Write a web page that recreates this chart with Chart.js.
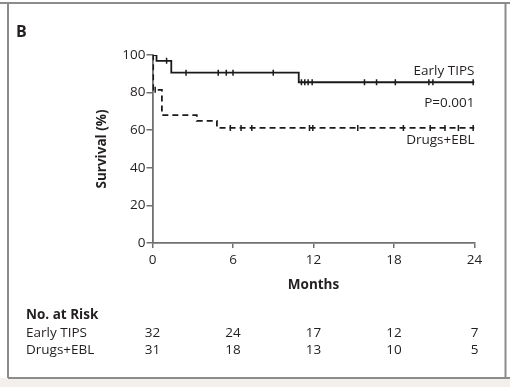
<!DOCTYPE html>
<html>
<head>
<meta charset="utf-8">
<script src="https://cdn.jsdelivr.net/npm/chart.js@4"></script>
<style>
  html, body { margin: 0; padding: 0; background: #fff; }
  #wrap { position: relative; width: 510px; height: 387px; }
  canvas { position: absolute; left: 0; top: 0; }
</style>
</head>
<body>
<div id="wrap"><canvas id="km" width="510" height="387"></canvas></div>
<script>
// Kaplan-Meier steps: [month, survival %] (value after each drop)
var tipsSteps = [[0, 100], [0.3, 96.9], [1.4, 90.6], [10.9, 85.5], [24, 85.5]];
var eblSteps = [[0, 100], [0.05, 81.5], [0.7, 68], [3.3, 65], [4.8, 61.2], [24, 61.2]];

// censored observations (months)
var tipsCensorTimes = [1.05, 2.5, 4.9, 5.5, 6.0, 9.0, 11.1, 11.35, 11.6, 11.9, 15.8, 16.7, 18.1, 20.6, 20.9, 23.9];
var tipsCensorValues = [96.9, 90.6, 90.6, 90.6, 90.6, 90.6, 85.5, 85.5, 85.5, 85.5, 85.5, 85.5, 85.5, 85.5, 85.5, 85.5];
var eblCensorTimes = [0.2, 5.8, 6.6, 7.4, 11.7, 11.95, 15.3, 18.7, 20.7, 21.8, 22.8, 23.9];
var eblCensorValues = [81.5, 61.2, 61.2, 61.2, 61.2, 61.2, 61.2, 61.2, 61.2, 61.2, 61.2, 61.2];

// number at risk table
var riskTimes = [0, 6, 12, 18, 24];
var tipsRisk = [32, 24, 17, 12, 7];
var eblRisk = [31, 18, 13, 10, 5];
var groupNames = ['Early TIPS', 'Drugs+EBL'];

var FONT = '"Open Sans", "Noto Sans", sans-serif';
var TEXT = '#231f20';
var AXIS = '#707070';

function toXY(pairs) {
    return pairs.map(function(p) { return {x: p[0], y: p[1]}; });
}
function zipXY(xs, ys) {
    return xs.map(function(x, i) { return {x: x, y: ys[i]}; });
}

// frame, panel letter, curve labels and the risk table
var extras = {
    id: 'extras',
    beforeDraw: function(chart) {
        var c = chart.ctx;
        c.save();
        c.fillStyle = '#f3f0eb';
        c.fillRect(0, 378, 510, 9);
        c.restore();
    },
    afterDraw: function(chart) {
        var c = chart.ctx;
        var xs = chart.scales.x, ys = chart.scales.y;
        c.save();
        // frame
        c.strokeStyle = '#8c8c8c';
        c.lineWidth = 2;
        c.beginPath();
        c.moveTo(0, 3); c.lineTo(510, 3);
        c.moveTo(8, 3); c.lineTo(8, 378);
        c.moveTo(8, 378); c.lineTo(510, 378);
        c.moveTo(505.5, 3); c.lineTo(505.5, 378);
        c.stroke();

        c.fillStyle = TEXT;
        c.textBaseline = 'middle';
        c.font = 'bold 16px ' + FONT;
        c.textAlign = 'left';
        c.fillText('B', 16, 32);

        // curve labels
        c.font = '13.5px ' + FONT;
        c.textAlign = 'right';
        var right = xs.getPixelForValue(24);
        c.fillText('Early TIPS', right, ys.getPixelForValue(91.6));
        c.fillText('P=0.001', right, ys.getPixelForValue(74.6));
        c.fillText('Drugs+EBL', right, ys.getPixelForValue(54.8));

        // risk table
        c.textAlign = 'left';
        c.font = 'bold 13.5px ' + FONT;
        c.fillText('No. at Risk', 26, 315);
        c.font = '13.5px ' + FONT;
        c.fillText(groupNames[0], 26, 333);
        c.fillText(groupNames[1], 26, 350);
        c.textAlign = 'center';
        for (var i = 0; i < riskTimes.length; i++) {
            var px = xs.getPixelForValue(riskTimes[i]);
            c.fillText(String(tipsRisk[i]), px, 333);
            c.fillText(String(eblRisk[i]), px, 350);
        }
        c.restore();
    }
};

var censorStyle = {
    type: 'scatter',
    showLine: false,
    pointStyle: 'line',
    rotation: 90,
    pointRadius: 3,
    pointBorderWidth: 1.5,
    borderColor: '#1a1a1a',
    backgroundColor: '#1a1a1a'
};

new Chart(document.getElementById('km').getContext('2d'), {
    type: 'line',
    data: {
        datasets: [
            {
                label: groupNames[0],
                data: toXY(tipsSteps),
                stepped: true,
                borderColor: '#1a1a1a',
                borderWidth: 1.8,
                pointRadius: 0,
                fill: false
            },
            {
                label: groupNames[1],
                data: toXY(eblSteps),
                stepped: true,
                borderColor: '#1a1a1a',
                borderWidth: 1.8,
                borderDash: [6, 4],
                pointRadius: 0,
                fill: false
            },
            Object.assign({label: 'tips censored', data: zipXY(tipsCensorTimes, tipsCensorValues)}, censorStyle),
            Object.assign({label: 'ebl censored', data: zipXY(eblCensorTimes, eblCensorValues)}, censorStyle)
        ]
    },
    options: {
        responsive: false,
        animation: false,
        layout: {padding: {left: 90, top: 55, right: 35.5, bottom: 90}},
        plugins: {
            legend: {display: false},
            tooltip: {enabled: false}
        },
        scales: {
            x: {
                type: 'linear',
                min: 0,
                max: 24,
                afterFit: function(scale) { scale.height = 54; },
                ticks: {stepSize: 6, color: TEXT, font: {family: FONT, size: 13.5}, padding: 4},
                grid: {drawOnChartArea: false, drawTicks: true, tickLength: 5, color: AXIS, lineWidth: 1.5},
                border: {color: AXIS, width: 1.8},
                title: {display: true, text: 'Months', color: TEXT, font: {family: FONT, size: 13.5, weight: 'bold'}, padding: {top: 0, bottom: 4}}
            },
            y: {
                min: 0,
                max: 100,
                afterFit: function(scale) { scale.width = 62.5; },
                ticks: {stepSize: 20, color: TEXT, font: {family: FONT, size: 13.5}, padding: 1},
                grid: {drawOnChartArea: false, drawTicks: true, tickLength: 6, color: AXIS, lineWidth: 1.5},
                border: {color: AXIS, width: 1.8},
                title: {display: true, text: 'Survival (%)', color: TEXT, font: {family: FONT, size: 13.5, weight: 'bold'}, padding: {top: 4, bottom: 0}}
            }
        }
    },
    plugins: [extras]
});
</script>
</body>
</html>
